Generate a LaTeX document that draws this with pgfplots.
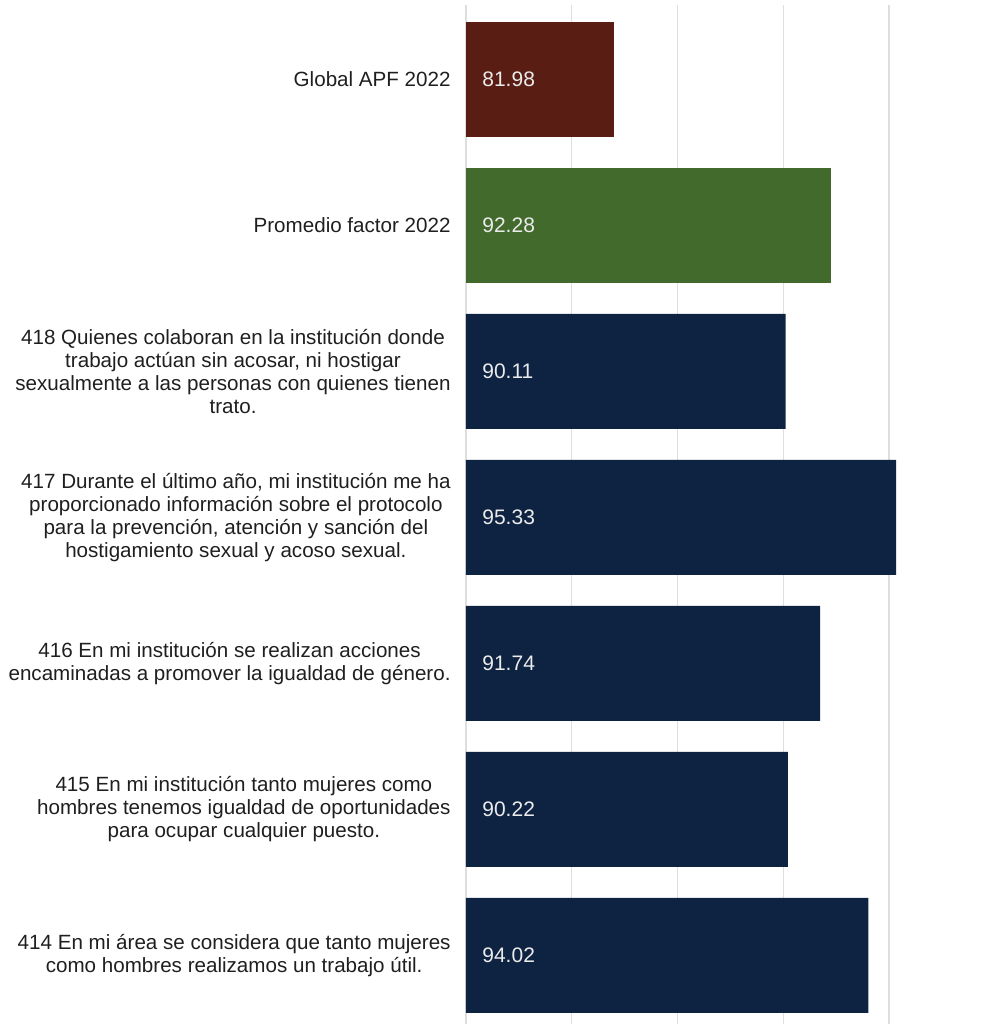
\documentclass[border=0pt]{standalone}
\usepackage{pgfplots}
\pgfplotsset{compat=1.18}
\usepackage{fontspec}
\setmainfont{Liberation Sans}
\definecolor{brownbar}{HTML}{5A1D14}
\definecolor{greenbar}{HTML}{426A2C}
\definecolor{navybar}{HTML}{0E2342}
\begin{document}
\begin{tikzpicture}
\path[use as bounding box] (0,0) rectangle (492pt,512pt);
\begin{axis}[
  at={(233pt,0pt)}, anchor=south west,
  scale only axis, width=259pt, height=509.5pt,
  xmin=75, xmax=99.49, ymin=-0.47, ymax=6.51,
  xtick={75,80,85,90,95}, xticklabels={},
  ytick={0,1,2,3,4,5,6},
  yticklabels={
    {414 En mi área se considera que tanto mujeres\\como hombres realizamos un trabajo útil.},
    {415 En mi institución tanto mujeres como\\hombres tenemos igualdad de oportunidades\\para ocupar cualquier puesto.},
    {416 En mi institución se realizan acciones\\encaminadas a promover la igualdad de género.},
    {417 Durante el último año, mi institución me ha\\proporcionado información sobre el protocolo\\para la prevención, atención y sanción del\\hostigamiento sexual y acoso sexual.},
    {418 Quienes colaboran en la institución donde\\trabajo actúan sin acosar, ni hostigar\\sexualmente a las personas con quienes tienen\\trato.},
    {Promedio factor 2022},
    {Global APF 2022}},
  axis line style={draw=none}, major tick length=0pt,
  xmajorgrids, ymajorgrids=false,
  major grid style={color=black!13, line width=0.6pt},
  yticklabel style={align=center, font=\fontsize{10.3}{11.5}\selectfont, inner sep=0pt, xshift=-7.5pt, text=black!88},
]
\addplot[xbar, bar width=57.5pt, bar shift=0pt, fill=brownbar, draw=none] coordinates {(81.98,6)};
\addplot[xbar, bar width=57.5pt, bar shift=0pt, fill=greenbar, draw=none] coordinates {(92.28,5)};
\addplot[xbar, bar width=57.5pt, bar shift=0pt, fill=navybar, draw=none] coordinates {
  (90.11,4) (95.33,3) (91.74,2) (90.22,1) (94.02,0)};
\addplot[draw=none, mark=none, nodes near coords, point meta=explicit symbolic,
  nodes near coords align=horizontal,
  nodes near coords style={anchor=west, inner sep=0pt, xshift=8pt, text=black!8, font=\fontsize{10.5}{11.5}\selectfont}]
  coordinates {(75,6) [81.98] (75,5) [92.28] (75,4) [90.11] (75,3) [95.33] (75,2) [91.74] (75,1) [90.22] (75,0) [94.02]};
\end{axis}
\end{tikzpicture}
\end{document}
